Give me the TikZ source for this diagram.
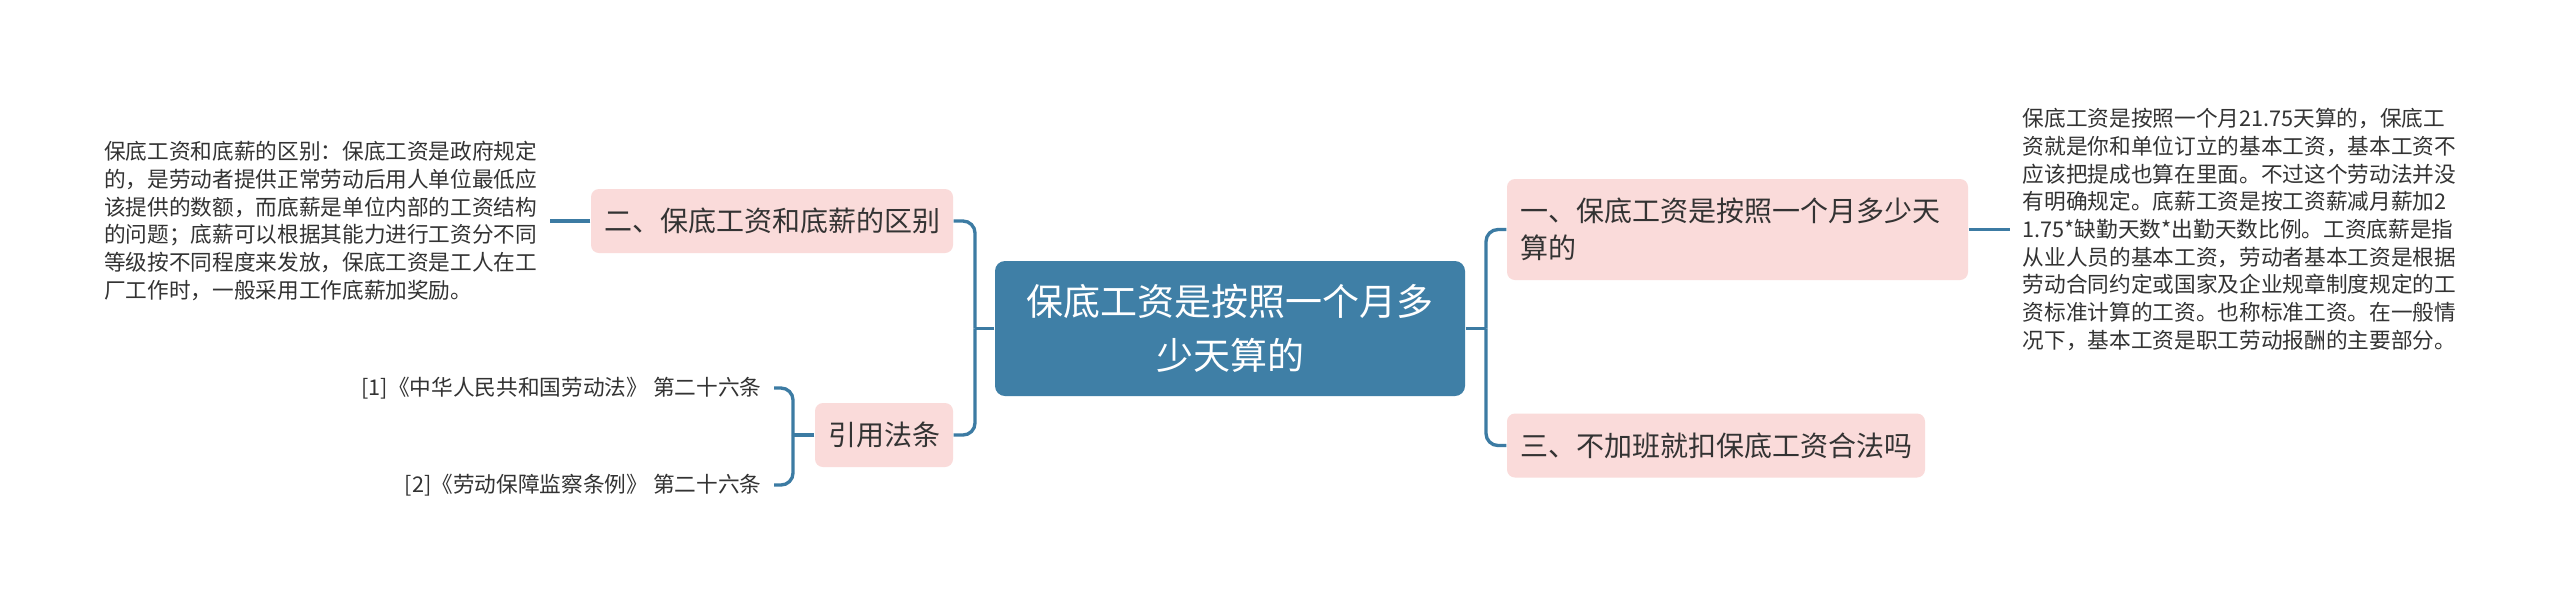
\documentclass[tikz,border=0pt]{standalone}
\usepackage{fontspec}
\setmainfont{Noto Sans CJK SC}
\definecolor{linec}{HTML}{3C7BA3}
\definecolor{centerc}{HTML}{3F7FA6}
\definecolor{pinkc}{HTML}{FADBDA}
\definecolor{textc}{HTML}{333333}
\tikzset{
 conn/.style={draw=linec, line width=1pt, rounded corners=3.6pt},
 centerbox/.style={fill=centerc, rounded corners=3pt, text=white, align=center, minimum width=141pt, minimum height=40.5pt, inner sep=0pt, font=\fontsize{11.1pt}{16.2pt}\selectfont},
 branch/.style={fill=pinkc, rounded corners=2.4pt, text=textc, inner xsep=3.9pt, inner ysep=0pt, minimum height=19.2pt, font=\fontsize{8.4pt}{11.1pt}\selectfont},
 leaf/.style={text=textc, align=left, inner xsep=3.6pt, inner ysep=0pt, font=\fontsize{6.5pt}{8.3pt}\selectfont},
}
\begin{document}
\begin{tikzpicture}[x=0.3pt, y=-0.3pt]
\fill[white] (0,0) rectangle (2560,602);
\useasboundingbox (0,0) rectangle (2560,602);
% nodes
\node[centerbox] (c) at (1230,328.5) {保底工资是按照一个月多\\少天算的};
\node[branch] (b2) at (772,221) {二、保底工资和底薪的区别};
\node[branch] (law) at (884,435) {引用法条};
\node[branch, minimum width=138.3pt, text width=130.5pt, align=left, minimum height=30.3pt] (b1) at (1737.5,229.5) {一、保底工资是按照一个月多少天\\算的};
\node[branch] (b3) at (1716,445.5) {三、不加班就扣保底工资合法吗};
\node[leaf, anchor=east] (lleaf) at (550,221) {保底工资和底薪的区别：保底工资是政府规定\\的，是劳动者提供正常劳动后用人单位最低应\\该提供的数额，而底薪是单位内部的工资结构\\的问题；底薪可以根据其能力进行工资分不同\\等级按不同程度来发放，保底工资是工人在工\\厂工作时，一般采用工作底薪加奖励。};
\node[leaf, anchor=west] (rleaf) at (2010,229.5) {保底工资是按照一个月21.75天算的，保底工\\资就是你和单位订立的基本工资，基本工资不\\应该把提成也算在里面。不过这个劳动法并没\\有明确规定。底薪工资是按工资薪减月薪加2\\1.75*缺勤天数*出勤天数比例。工资底薪是指\\从业人员的基本工资，劳动者基本工资是根据\\劳动合同约定或国家及企业规章制度规定的工\\资标准计算的工资。也称标准工资。在一般情\\况下，基本工资是职工劳动报酬的主要部分。};
\node[leaf, anchor=east] (cite1) at (774,388) {[1]《中华人民共和国劳动法》 第二十六条};
\node[leaf, anchor=east] (cite2) at (774,485) {[2]《劳动保障监察条例》 第二十六条};
% trunk coordinates
\coordinate (lt) at (975,328.5);
\coordinate (rt) at (1486,328.5);
\coordinate (ct) at (793,435);
% connectors
\draw[conn] (c.west) -- (lt);
\draw[conn] (lt) |- (b2.east);
\draw[conn] (lt) |- (law.east);
\draw[conn] (c.east) -- (rt);
\draw[conn] (rt) |- (b1.west);
\draw[conn] (rt) |- (b3.west);
\draw[conn] (b2.west) -- (lleaf.east |- b2.west);
\draw[conn] (b1.east) -- (rleaf.west |- b1.east);
\draw[conn] (law.west) -- (ct);
\draw[conn] (ct) |- (cite1.east);
\draw[conn] (ct) |- (cite2.east);
\end{tikzpicture}
\end{document}
